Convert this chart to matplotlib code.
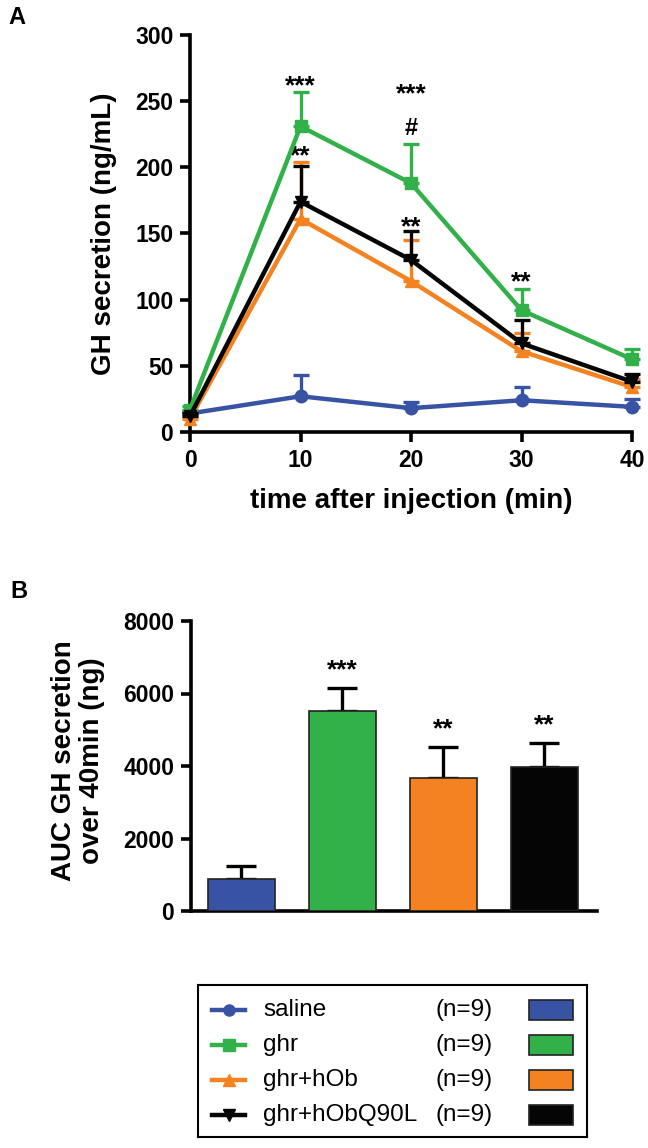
import matplotlib.pyplot as plt
from matplotlib.patches import Rectangle
import numpy as np

plt.rcParams['font.family'] = ['Liberation Sans', 'DejaVu Sans']

# panel A: GH secretion over time
times = [0, 10, 20, 30, 40]
groups = ['saline', 'ghr', 'ghr+hOb', 'ghr+hObQ90L']
n_labels = ['(n=9)', '(n=9)', '(n=9)', '(n=9)']
colors = ['#3953A4', '#32B04A', '#F58220', '#050505']
markers = ['o', 's', '^', 'v']

saline = [14, 27, 18, 24, 19]
saline_err = [2, 16, 5, 10, 6]
ghr = [17, 231, 188, 92, 55]
ghr_err = [3, 26, 30, 16, 8]
ghr_hob = [10, 161, 114, 61, 34]
ghr_hob_err = [2, 43, 31, 14, 6]
ghr_q90l = [12, 174, 130, 67, 38]
ghr_q90l_err = [2, 27, 22, 18, 6]

# significance marks on panel A (time, height, text)
sig_a = [(10, 261, '***'), (10, 208, '**'), (20, 255, '***'),
         (20, 229, '#'), (20, 155, '**'), (30, 113, '**')]

# panel B: AUC
auc = [875, 5520, 3660, 3980]
auc_err = [365, 630, 855, 645]
sig_b = ['', '***', '**', '**']

fig = plt.figure(figsize=(6.48, 11.48), dpi=100)

# ---------- panel A ----------
ax = fig.add_axes([190/648, 1-432/1148, 442/648, 397/1148])
series = [saline, ghr, ghr_hob, ghr_q90l]
errs = [saline_err, ghr_err, ghr_hob_err, ghr_q90l_err]
for i in range(4):
    ax.errorbar(times, series[i], yerr=[np.zeros(5), errs[i]], color=colors[i],
                marker=markers[i], markersize=9, linewidth=3.2, elinewidth=2.4,
                capsize=5.5, capthick=2.4, clip_on=False, zorder=3+i)
for t, h, s in sig_a:
    fs = 17 if s == '#' else 19
    ax.text(t, h, s, ha='center', va='center', fontsize=fs, fontweight='bold')

ax.set_xlim(0, 40)
ax.set_ylim(0, 300)
ax.set_xticks(times)
ax.set_yticks([0, 50, 100, 150, 200, 250, 300])
ax.set_xlabel('time after injection (min)', fontsize=20, fontweight='bold', labelpad=12)
ax.set_ylabel('GH secretion (ng/mL)', fontsize=20, fontweight='bold')
ax.yaxis.set_label_coords(-0.165, 0.5)

# ---------- panel B ----------
bx = fig.add_axes([191/648, 1-911/1148, 406/648, 290/1148])
pos = np.arange(len(groups))
bx.bar(pos, auc, width=0.66, color=colors, edgecolor='#222222', linewidth=1.2, zorder=3)
bx.errorbar(pos, auc, yerr=[np.zeros(4), auc_err], fmt='none', ecolor='black',
            elinewidth=2.4, capsize=11, capthick=2.4, zorder=2)
for p, v, e, s in zip(pos, auc, auc_err, sig_b):
    if s:
        bx.annotate(s, (p, v + e), xytext=(0, 13), textcoords='offset points',
                    ha='center', va='center', fontsize=19, fontweight='bold')
bx.set_xlim(-0.5, 3.52)
bx.set_ylim(0, 8000)
bx.set_yticks([0, 2000, 4000, 6000, 8000])
bx.set_xticks([])
bx.set_ylabel('AUC GH secretion\nover 40min (ng)', fontsize=20, fontweight='bold',
              linespacing=1.1)
bx.yaxis.set_label_coords(-0.212, 0.517)

for a in (ax, bx):
    for side in ('top', 'right'):
        a.spines[side].set_visible(False)
    for side in ('left', 'bottom'):
        a.spines[side].set_linewidth(2.6)
    a.tick_params(width=2.6, length=7, labelsize=16.5, pad=5)
    for lab in a.get_xticklabels() + a.get_yticklabels():
        lab.set_fontweight('bold')

fig.text(8/648, 1-17/1148, 'A', fontsize=17, fontweight='bold', va='center')
fig.text(10/648, 1-592/1148, 'B', fontsize=17, fontweight='bold', va='center')

# ---------- legend ----------
lax = fig.add_axes([198/648, 1-1137/1148, 389/648, 152/1148])
lax.set_xlim(198, 587)
lax.set_ylim(1137, 985)
lax.set_xticks([])
lax.set_yticks([])
for s in lax.spines.values():
    s.set_linewidth(1.5)
row_y = [1010, 1045, 1080, 1115]
for i in range(4):
    y = row_y[i]
    lax.plot([212, 245], [y, y], color=colors[i], linewidth=3.2)
    lax.plot([228.5], [y], color=colors[i], marker=markers[i], markersize=8)
    lax.text(263, y, groups[i], fontsize=17.5, va='center')
    lax.text(493, y, n_labels[i], fontsize=17.5, va='center', ha='right')
    lax.add_patch(Rectangle((529, y-10), 44, 20, facecolor=colors[i],
                            edgecolor='#222222', linewidth=1.2))

fig.savefig('out.png', dpi=100)
